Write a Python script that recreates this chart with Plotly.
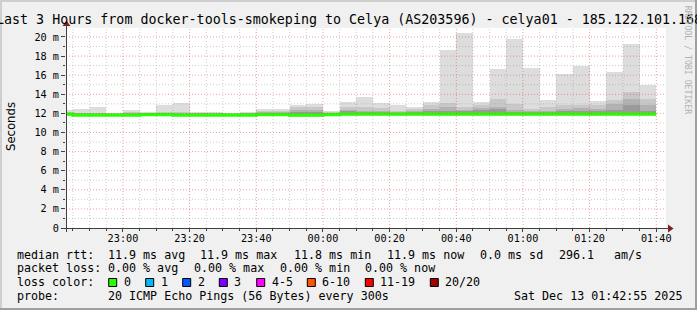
import plotly.graph_objects as go
import pandas as pd

# ---------------- data ----------------
TITLE = "Last 3 Hours from docker-tools-smokeping to Celya (AS203596) - celya01 - 185.122.101.168"
T_START = "2025-12-12 22:42:55"
T_END = "2025-12-13 01:42:55"

# RRD 5-minute step end times
step_end = pd.date_range("2025-12-12 22:45", "2025-12-13 01:40", freq="5min")

# smoke (ms): lowest ping, highest ping and inner (darker) smoke layers
smoke_min = [11.70, 11.70, 11.70, 11.72, 11.70, 11.72, 11.72, 11.70, 11.72, 11.72,
             11.72, 11.72, 11.70, 11.70, 11.60, 11.60, 11.72, 11.75, 11.72, 11.75,
             11.75, 11.75, 11.72, 11.72, 11.72, 11.72, 11.70, 11.72, 11.75, 11.75,
             11.72, 11.72, 11.72, 11.70, 11.70, 11.72]
smoke_max = [12.35, 12.50, 12.70, 12.05, 12.35, 12.12, 12.90, 13.10, 12.15, 12.10,
             12.02, 12.10, 12.50, 12.50, 12.90, 13.00, 12.30, 13.20, 13.75, 13.10,
             12.90, 12.70, 13.20, 18.65, 20.45, 13.20, 16.60, 19.80, 16.75, 13.40,
             16.10, 17.00, 13.30, 16.30, 19.30, 15.00]
smoke_l2 = [12.15, 12.08, 12.08, 12.02, 12.15, 12.05, 12.15, 12.15, 12.05, 12.05,
            12.00, 12.05, 12.22, 12.22, 12.64, 12.64, 12.15, 12.64, 12.70, 12.53,
            12.29, 12.43, 12.85, 13.10, 12.70, 12.85, 13.54, 12.98, 12.50, 12.64,
            12.91, 12.84, 12.84, 13.40, 14.24, 13.54]
smoke_l3 = [12.05, 12.02, 12.02, 11.98, 12.05, 12.00, 12.05, 12.05, 12.00, 12.00,
            11.97, 12.00, 12.10, 12.10, 12.36, 12.36, 12.05, 12.36, 12.29, 12.30,
            12.15, 12.25, 12.46, 12.64, 12.36, 12.57, 12.70, 12.36, 12.29, 12.22,
            12.50, 12.57, 12.50, 12.98, 13.54, 12.84]
smoke_l4 = [11.98, 11.96, 11.96, 11.95, 11.98, 11.96, 11.98, 11.98, 11.96, 11.96,
            11.95, 11.96, 12.02, 12.02, 12.15, 12.15, 11.98, 12.20, 12.15, 12.10,
            12.05, 12.10, 12.22, 12.30, 12.20, 12.36, 12.43, 12.15, 12.15, 12.10,
            12.22, 12.29, 12.22, 12.36, 12.84, 12.22]
median_rtt = [11.92, 11.82, 11.82, 11.82, 11.82, 11.87, 11.87, 11.82, 11.82, 11.82,
              11.82, 11.82, 11.87, 11.87, 11.82, 11.82, 11.87, 11.92, 11.92, 11.92,
              11.92, 11.92, 11.92, 11.92, 11.92, 11.92, 11.92, 11.92, 11.92, 11.92,
              11.92, 11.92, 11.92, 11.92, 11.92, 11.92]

Y_MAX = 20.94
y_tick_vals = [0, 2, 4, 6, 8, 10, 12, 14, 16, 18, 20]
y_tick_text = ["0", "2 m", "4 m", "6 m", "8 m", "10 m", "12 m", "14 m", "16 m", "18 m", "20 m"]
x_tick_vals = pd.date_range("2025-12-12 23:00", "2025-12-13 01:40", freq="20min")
x_tick_text = [t.strftime("%H:%M") for t in x_tick_vals]

legend_rtt = ["11.9 ms avg", "11.9 ms max", "11.8 ms min", "11.9 ms now", "0.0 ms sd", "296.1", "am/s"]
legend_loss = ["0.00 % avg", "0.00 % max", "0.00 % min", "0.00 % now"]
loss_labels = ["0", "1", "2", "3", "4-5", "6-10", "11-19", "20/20"]
loss_colors = ["#26ff00", "#00b8ff", "#0059ff", "#7e00ff", "#ff00fe", "#ff5500", "#ff0000", "#a10000"]
probe_text = "20 ICMP Echo Pings (56 Bytes) every 300s"
stamp_text = "Sat Dec 13 01:42:55 2025"

# ---------------- layout helpers ----------------
W, H = 697, 310
L, R, T, B = 66, 31, 28, 82
PW, PH = W - L - R, H - T - B
MONO = "DejaVu Sans Mono"
SANS = "DejaVu Sans"


def X(px):
    return (px - L) / PW


def Y(py):
    return (T + PH - py) / PH


STEP_MS = 300000
fig = go.Figure()

# smoke layers
fig.add_trace(go.Bar(x=step_end, y=[a - b for a, b in zip(smoke_max, smoke_min)], base=smoke_min,
                     width=STEP_MS, offset=-STEP_MS, marker=dict(color="#dddddd", line=dict(width=0)),
                     hoverinfo="skip"))
for layer, col in [(smoke_l2, "#c8c8c8"), (smoke_l3, "#b2b2b2"), (smoke_l4, "#9a9a9a")]:
    fig.add_trace(go.Bar(x=step_end, y=[a - b for a, b in zip(layer, median_rtt)], base=median_rtt,
                         width=STEP_MS, offset=-STEP_MS, marker=dict(color=col, line=dict(width=0)),
                         hoverinfo="skip"))

# median line (step)
line_x = list(step_end - pd.Timedelta(minutes=5)) + [step_end[-1]]
line_y = median_rtt + [median_rtt[-1]]
fig.add_trace(go.Scatter(x=line_x, y=line_y, mode="lines", line=dict(color="#26ff00", width=3.3, shape="hv"),
                         hoverinfo="skip"))

shapes = []
# grid on top of the data
grid_times = pd.date_range("2025-12-12 22:45", "2025-12-13 01:40", freq="5min")
for t in grid_times:
    major = (t.minute % 20 == 0)
    shapes.append(dict(type="line", xref="x", yref="paper", x0=t, x1=t, y0=0, y1=1, layer="above",
                       line=dict(color="rgba(222,80,80,0.55)" if major else "rgba(143,143,143,0.45)",
                                 width=1, dash="1px,2px")))
for v in range(1, 21):
    major = (v % 2 == 0)
    shapes.append(dict(type="line", xref="paper", yref="y", x0=0, x1=1, y0=v, y1=v, layer="above",
                       line=dict(color="rgba(222,80,80,0.55)" if major else "rgba(143,143,143,0.45)",
                                 width=1, dash="1px,2px")))

AX = "#404040"
ARROW = "#7f1f1f"
# axes
shapes.append(dict(type="line", xref="paper", yref="paper", x0=X(62), x1=X(669), y0=Y(228.5), y1=Y(228.5),
                   line=dict(color=AX, width=1), layer="above"))
shapes.append(dict(type="line", xref="paper", yref="paper", x0=X(66.5), x1=X(66.5), y0=Y(232), y1=Y(25),
                   line=dict(color=AX, width=1), layer="above"))
shapes.append(dict(type="path", xref="paper", yref="paper", layer="above",
                   path=f"M {X(668)},{Y(224.5)} L {X(668)},{Y(232.5)} L {X(673.5)},{Y(228.5)} Z",
                   fillcolor=ARROW, line=dict(width=0)))
shapes.append(dict(type="path", xref="paper", yref="paper", layer="above",
                   path=f"M {X(62.5)},{Y(26)} L {X(70.5)},{Y(26)} L {X(66.5)},{Y(20.5)} Z",
                   fillcolor=ARROW, line=dict(width=0)))
# 3D border
for (x0, y0, x1, y1, c) in [(0, 0, W, 2, "#cfcfcf"), (0, 0, 2, H, "#cfcfcf"),
                            (0, H - 2, W, H, "#9e9e9e"), (W - 2, 0, W, H, "#9e9e9e")]:
    shapes.append(dict(type="rect", xref="paper", yref="paper", x0=X(x0), x1=X(x1), y0=Y(y1), y1=Y(y0),
                       fillcolor=c, line=dict(width=0), layer="above"))

# loss colour boxes
box_x = [108.7, 145.7, 182.7, 219.3, 256.7, 307.3, 365.3, 430.3]
for bx, col in zip(box_x, loss_colors):
    shapes.append(dict(type="rect", xref="paper", yref="paper", x0=X(bx), x1=X(bx + 8), y0=Y(286.5), y1=Y(278.5),
                       fillcolor=col, line=dict(color="#000000", width=1)))

ann = []


def text(s, px, py, size=11.66, xanchor="left", family=MONO, color="#000000", angle=0):
    ann.append(dict(text=s.replace(" ", "\u00a0"), x=X(px), y=Y(py), xref="paper", yref="paper",
                    xanchor=xanchor, yanchor="middle", showarrow=False, borderpad=0, textangle=angle,
                    font=dict(family=family, size=size, color=color)))


text(TITLE, 348.5, 19.5, size=13.33, xanchor="center")
text("Seconds", 11, 127, family=SANS, xanchor="center", angle=-90)
text("RRDTOOL / TOBI OETIKER", 688.3, 60, size=8.2, xanchor="center", color="#b0b0b0", angle=90)

row_y = [254.5, 268, 282, 296]
text("median rtt:", 15.5, row_y[0])
for s, px in zip(legend_rtt, [106.7, 199.4, 292.7, 386.1, 478.7, 557.7, 612.7]):
    text(s, px, row_y[0])
text("packet loss:", 15.5, row_y[1])
for s, px in zip(legend_loss, [106.7, 192.7, 278.7, 364.4]):
    text(s, px, row_y[1])
text("loss color:", 15.5, row_y[2])
for s, bx in zip(loss_labels, box_x):
    text(s, bx + 14, row_y[2])
text("probe:", 15.5, row_y[3])
text(probe_text, 106.7, row_y[3])
text(stamp_text, 512.7, row_y[3])

fig.update_layout(
    width=W, height=H, margin=dict(l=L, r=R, t=T, b=B, pad=0),
    paper_bgcolor="#f0f0f0", plot_bgcolor="#ffffff",
    barmode="overlay", bargap=0, showlegend=False,
    shapes=shapes, annotations=ann,
    xaxis=dict(type="date", range=[T_START, T_END], showgrid=False, zeroline=False, showline=False,
               tickvals=list(x_tick_vals), ticktext=x_tick_text, ticks="outside", ticklen=3,
               ticklabelstandoff=-2,
               tickcolor=AX, tickwidth=1, tickfont=dict(family=MONO, size=10.2, color="#000000"),
               minor=dict(dtick=STEP_MS, tick0="2025-12-12 22:45", ticks="outside", ticklen=2,
                          tickcolor=AX, showgrid=False),
               fixedrange=True),
    yaxis=dict(range=[0, Y_MAX], showgrid=False, zeroline=False, showline=False,
               tickvals=y_tick_vals, ticktext=y_tick_text, ticks="outside", ticklen=4,
               tickcolor=AX, tickwidth=1, tickfont=dict(family=MONO, size=10.2, color="#000000"),
               minor=dict(dtick=1, ticks="outside", ticklen=2, tickcolor=AX, showgrid=False),
               fixedrange=True),
)

fig.write_html("out.html", config={"displayModeBar": False})
